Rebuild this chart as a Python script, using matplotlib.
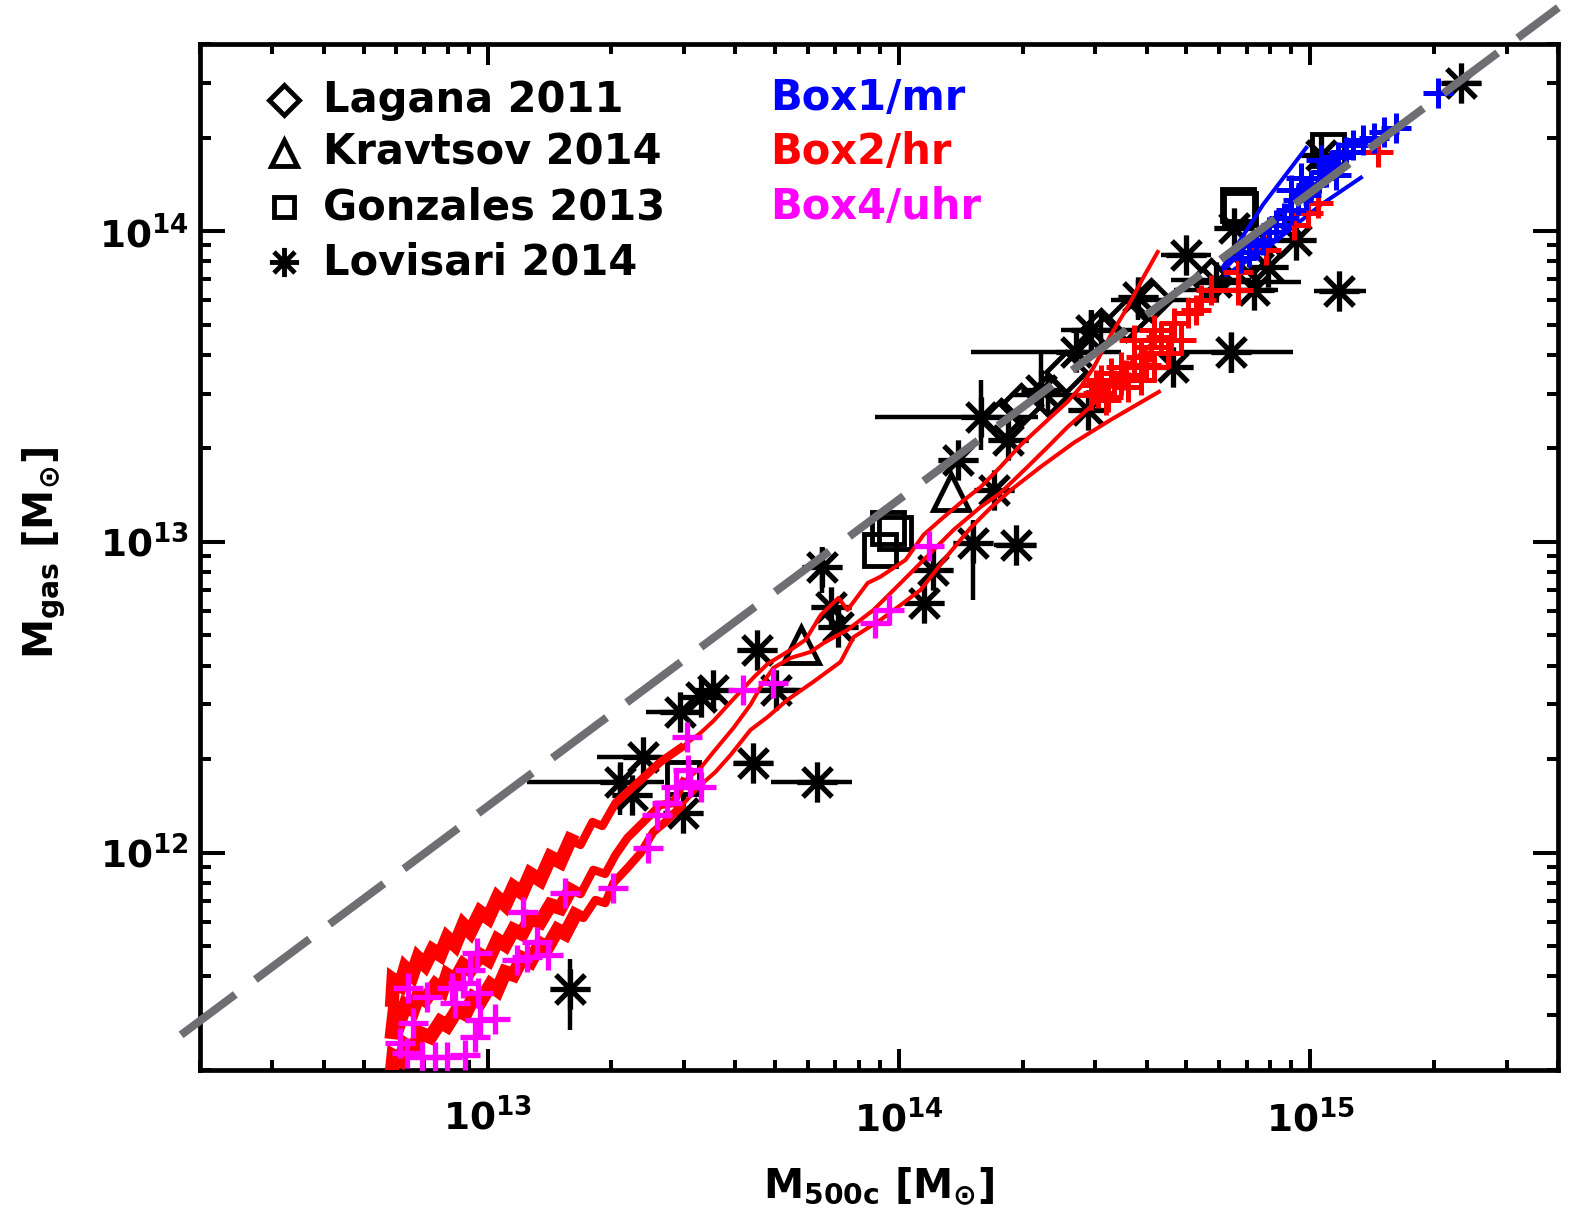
import numpy as np
import matplotlib
matplotlib.use("Agg")
import matplotlib.pyplot as plt
from matplotlib.path import Path
from matplotlib.ticker import LogLocator, NullFormatter

plt.rcParams["font.family"] = ["DejaVu Sans"]
plt.rcParams["font.weight"] = "bold"
plt.rcParams["mathtext.default"] = "bf"

# ---- data (log10 of masses in Msun) ----
# simulations, Box4/uhr
box4_logm = [12.788, 12.805, 12.841, 12.873, 12.902, 12.946, 12.807, 12.853, 12.819, 12.975,
             12.958, 12.914, 12.941, 12.977, 12.921, 12.982, 13.019, 12.970, 13.087, 13.189,
             13.306, 13.121, 13.072, 13.148, 13.097, 13.391, 13.413, 13.437, 13.457, 13.493,
             13.518, 13.488, 13.486, 13.620, 13.695, 14.072, 13.943, 13.975]
box4_logmgas = [11.388, 11.356, 11.343, 11.343, 11.343, 11.349, 11.565, 11.536, 11.452, 11.677,
                11.623, 11.565, 11.581, 11.549, 11.517, 11.462, 11.465, 11.407, 11.809, 11.871,
                11.887, 11.713, 11.655, 11.671, 11.665, 12.015, 12.122, 12.160, 12.212, 12.228,
                12.212, 12.266, 12.372, 12.524, 12.546, 12.987, 12.739, 12.781]

# Box2/hr clusters
box2_logm = [15.165, 15.019, 14.994, 14.960, 14.892, 14.824, 14.824, 14.758, 14.734, 14.702,
             14.668, 14.637, 14.612, 14.588, 14.571, 14.539, 14.515, 14.491, 14.483, 14.508,
             14.556, 14.588, 14.620, 14.654, 14.685, 14.571, 14.620, 14.466, 14.522, 14.552,
             14.600, 14.661, 14.722, 14.479, 14.503, 14.539]
box2_logmgas = [14.255, 14.091, 14.059, 14.020, 13.940, 13.869, 13.811, 13.811, 13.779, 13.737,
                13.705, 13.660, 13.628, 13.595, 13.563, 13.563, 13.544, 13.521, 13.480, 13.467,
                13.499, 13.521, 13.563, 13.608, 13.650, 13.650, 13.682, 13.473, 13.505, 13.537,
                13.570, 13.650, 13.747, 13.505, 13.457, 13.521]

# Box1/mr clusters
box1_logm = [15.311, 15.208, 15.179, 15.155, 15.128, 15.104, 15.087, 15.067, 15.050, 15.038,
             15.021, 15.002, 14.990, 14.970, 14.953, 14.936, 14.916, 14.899, 14.885, 14.868,
             14.851, 14.831, 14.977, 15.026, 14.953, 15.063]
box1_logmgas = [14.445, 14.332, 14.320, 14.300, 14.294, 14.278, 14.255, 14.239, 14.213, 14.191,
                14.172, 14.149, 14.117, 14.101, 14.068, 14.043, 14.020, 13.998, 13.972, 13.956,
                13.933, 13.914, 14.172, 14.229, 14.133, 14.181]

# Box2/hr running lines (upper, median, lower)
hr_up_logm = [12.768, 12.771, 12.788, 12.800, 12.817, 12.831, 12.848, 12.866, 12.885, 12.902,
              12.921, 12.941, 12.958, 12.982, 13.002, 13.024, 13.043, 13.063, 13.084, 13.104,
              13.128, 13.153, 13.177, 13.201, 13.226, 13.255, 13.279, 13.311, 13.354, 13.389,
              13.420, 13.469, 13.518, 13.549, 13.598, 13.646, 13.681, 13.737, 13.773, 13.810,
              13.853, 13.875, 13.924, 13.955, 14.016, 14.060, 14.101, 14.150, 14.199, 14.247,
              14.296, 14.362, 14.410, 14.442, 14.474, 14.515, 14.556, 14.595, 14.629]
hr_up_logmgas = [11.526, 11.591, 11.575, 11.629, 11.607, 11.661, 11.639, 11.687, 11.671, 11.726,
                 11.703, 11.768, 11.745, 11.809, 11.790, 11.855, 11.832, 11.890, 11.871, 11.932,
                 11.912, 11.986, 11.970, 12.041, 12.025, 12.099, 12.086, 12.160, 12.212, 12.254,
                 12.292, 12.337, 12.386, 12.424, 12.495, 12.563, 12.608, 12.653, 12.685, 12.765,
                 12.820, 12.781, 12.868, 12.888, 12.942, 13.023, 13.071, 13.126, 13.177, 13.242,
                 13.312, 13.393, 13.451, 13.499, 13.563, 13.666, 13.756, 13.853, 13.933]
hr_mid_logm = [12.768, 12.773, 12.788, 12.800, 12.819, 12.831, 12.848, 12.873, 12.890, 12.902,
               12.921, 12.941, 12.958, 12.982, 13.002, 13.024, 13.043, 13.063, 13.084, 13.104,
               13.128, 13.153, 13.177, 13.201, 13.226, 13.257, 13.286, 13.311, 13.340, 13.379,
               13.420, 13.452, 13.476, 13.518, 13.549, 13.598, 13.639, 13.671, 13.695, 13.737,
               13.785, 13.817, 13.875, 13.938, 13.980, 14.036, 14.084, 14.133, 14.199, 14.247,
               14.313, 14.362, 14.410, 14.466, 14.539, 14.612]
hr_mid_logmgas = [11.423, 11.481, 11.462, 11.510, 11.494, 11.539, 11.526, 11.575, 11.558, 11.607,
                  11.591, 11.639, 11.623, 11.671, 11.655, 11.719, 11.703, 11.752, 11.739, 11.790,
                  11.777, 11.832, 11.822, 11.880, 11.867, 11.945, 11.932, 11.993, 12.048, 12.099,
                  12.154, 12.160, 12.228, 12.273, 12.324, 12.402, 12.476, 12.550, 12.595, 12.627,
                  12.646, 12.675, 12.717, 12.781, 12.836, 12.910, 12.974, 13.039, 13.113, 13.158,
                  13.242, 13.306, 13.370, 13.435, 13.547, 13.634]
hr_lo_logm = [12.768, 12.771, 12.788, 12.800, 12.819, 12.836, 12.861, 12.885, 12.902, 12.926,
              12.946, 12.965, 12.982, 13.007, 13.024, 13.043, 13.063, 13.084, 13.104, 13.128,
              13.145, 13.170, 13.189, 13.213, 13.233, 13.262, 13.286, 13.306, 13.340, 13.372,
              13.403, 13.432, 13.469, 13.518, 13.554, 13.591, 13.639, 13.681, 13.729, 13.792,
              13.858, 13.890, 13.955, 14.004, 14.053, 14.119, 14.174, 14.223, 14.272, 14.345,
              14.425, 14.515, 14.632]
hr_lo_logmgas = [11.307, 11.346, 11.333, 11.382, 11.365, 11.420, 11.407, 11.456, 11.443, 11.494,
                 11.481, 11.533, 11.520, 11.575, 11.558, 11.616, 11.607, 11.661, 11.649, 11.707,
                 11.694, 11.752, 11.739, 11.800, 11.790, 11.848, 11.838, 11.903, 11.951, 11.999,
                 12.067, 12.099, 12.147, 12.218, 12.260, 12.315, 12.395, 12.437, 12.492, 12.550,
                 12.614, 12.694, 12.749, 12.797, 12.846, 12.958, 13.045, 13.110, 13.167, 13.242,
                 13.319, 13.393, 13.483]

# Box1/mr running lines
mr_lines_logm = [[14.788, 14.885, 14.990],
                 [14.790, 14.880, 14.977, 15.075],
                 [14.795, 14.904, 15.026, 15.123]]
mr_lines_logmgas = [[13.885, 14.085, 14.268],
                    [13.875, 14.004, 14.117, 14.213],
                    [13.859, 13.956, 14.085, 14.172]]

# Lovisari 2014 (errors in dex)
lov_logm = [13.201, 13.802, 13.646, 13.323, 13.379, 13.352, 13.469, 13.518, 13.549, 13.476,
            13.656, 13.700, 13.814, 13.834, 13.851, 14.060, 14.084, 14.179, 14.284, 14.143,
            14.230, 14.199, 14.430, 14.345, 14.264, 14.466, 14.666, 14.807, 14.698, 14.814,
            14.897, 14.863, 15.070, 15.367, 14.771, 14.581, 14.459, 14.965, 15.026]
lov_logmgas = [11.562, 12.228, 12.289, 12.228, 12.308, 12.186, 12.453, 12.501, 12.524, 12.128,
               12.653, 12.524, 12.920, 12.791, 12.727, 12.804, 12.910, 12.997, 12.990, 13.264,
               13.167, 13.402, 13.612, 13.489, 13.328, 13.682, 13.563, 13.612, 13.924, 14.011,
               13.885, 13.811, 13.808, 14.477, 13.837, 13.789, 13.425, 13.972, 14.246]
lov_dm_lo = [0, .112, .048, .226, .112, 0, .085, 0, 0, 0, 0, .036, 0, 0, 0, 0, 0, 0, .054, 0,
             0, .256, .256, 0, 0, 0, 0, .122, .061, 0, 0, .195, .061, .042, .061, 0, 0, 0, .017]
lov_dm_hi = [0, .085, .047, .105, .041, 0, .049, 0, 0, 0, 0, .061, 0, 0, 0, 0, 0, 0, .049, 0,
             0, .138, .109, 0, 0, 0, 0, .151, .060, 0, 0, .058, .065, .048, .206, 0, 0, 0, .041]
lov_dg_lo = [.132, 0, 0, .106, 0, 0, 0, 0, 0, 0, 0, 0, .084, 0, 0, 0, 0, .184, 0, 0,
             0, .106, 0, .032, 0, .080, 0, .068, 0, 0, 0, 0, 0, 0, 0, .074, 0, 0, 0]
lov_dg_hi = [.096, 0, 0, .055, 0, 0, 0, 0, 0, 0, 0, 0, .064, 0, 0, 0, 0, .074, 0, 0,
             0, .119, 0, .119, 0, .065, 0, .061, 0, 0, 0, 0, 0, 0, 0, .054, 0, 0, 0]

# Lagana 2011
lag_logm = [14.362, 14.491, 14.612, 14.247, 14.758, 14.406, 14.552, 14.856, 14.296, 14.929]
lag_logmgas = [13.473, 13.682, 13.779, 13.393, 13.843, 13.547, 13.715, 13.924, 13.441, 13.988]
lag_dm_lo = [0.090, 0.098, 0.097, 0, 0.097, 0, 0, 0, 0, 0]
lag_dm_hi = [0.092, 0.097, 0.098, 0, 0.098, 0, 0, 0, 0, 0]
lag_dg_lo = [0.064, 0.064, 0, 0, 0, 0, 0, 0, 0, 0]
lag_dg_hi = [0.064, 0.065, 0, 0, 0, 0, 0, 0, 0, 0]

# Gonzales 2013
gon_logm = [13.973, 13.990, 13.955, 14.824, 14.830, 15.043, 13.476]
gon_logmgas = [13.045, 13.030, 12.974, 14.085, 14.070, 14.262, 12.241]

# Kravtsov 2014
kra_logm = [14.126, 13.761]
kra_logmgas = [13.161, 12.669]

# reference relation (dashed)
ref_logm = [12.255, 15.603]
ref_logmgas = [11.414, 14.719]

legend_names = ["Lagana 2011", "Kravtsov 2014", "Gonzales 2013", "Lovisari 2014"]
sim_names = ["Box1/mr", "Box2/hr", "Box4/uhr"]
sim_colors = ["#0000ff", "#ff0000", "#ff00ff"]


def lin(a):
    return 10.0 ** np.asarray(a, dtype=float)


def err(logv, dlo, dhi):
    v = lin(logv)
    lo = v - lin(np.subtract(logv, dlo))
    hi = lin(np.add(logv, dhi)) - v
    return [lo, hi]


ast = Path([(-1, 0), (1, 0), (0, -1), (0, 1), (-.72, -.72), (.72, .72), (-.72, .72), (.72, -.72)],
           [Path.MOVETO, Path.LINETO] * 4)

fig = plt.figure(figsize=(15.75, 12.18), dpi=100)
ax = fig.add_axes([0.127, 0.1215, 0.8622, 0.8424])
ax.set_xscale("log")
ax.set_yscale("log")

# observations
ax.errorbar(lin(lov_logm), lin(lov_logmgas),
            xerr=err(lov_logm, lov_dm_lo, lov_dm_hi), yerr=err(lov_logmgas, lov_dg_lo, lov_dg_hi),
            fmt="none", ecolor="k", elinewidth=3.2, capsize=0, zorder=2)
ax.plot(lin(lov_logm), lin(lov_logmgas), ls="none", marker=ast, ms=29,
        mfc="none", mec="k", mew=3.8, zorder=2)
ax.errorbar(lin(lag_logm), lin(lag_logmgas),
            xerr=err(lag_logm, lag_dm_lo, lag_dm_hi), yerr=err(lag_logmgas, lag_dg_lo, lag_dg_hi),
            fmt="none", ecolor="k", elinewidth=3.2, capsize=0, zorder=2)
ax.plot(lin(lag_logm), lin(lag_logmgas), ls="none", marker="D", ms=20,
        mfc="none", mec="k", mew=3.5, zorder=2)
ax.plot(lin(gon_logm), lin(gon_logmgas), ls="none", marker="s", ms=23,
        mfc="none", mec="k", mew=3.5, zorder=2)
ax.plot(lin(kra_logm), lin(kra_logmgas), ls="none", marker="^", ms=26,
        mfc="none", mec="k", mew=3.5, zorder=2)

# simulations: the noisy low-mass end of the Box2 lines reads as a thick band
for lx, ly in [(hr_up_logm, hr_up_logmgas), (hr_mid_logm, hr_mid_logmgas), (hr_lo_logm, hr_lo_logmgas)]:
    lx = np.asarray(lx)
    ly = np.asarray(ly)
    ax.plot(lin(lx), lin(ly), color=sim_colors[1], lw=2.9, zorder=3)
    low = lx <= 13.22
    ax.plot(lin(lx[low]), lin(ly[low]), color=sim_colors[1], lw=10, zorder=3,
            solid_joinstyle="miter")
    mid = lx <= 13.48
    ax.plot(lin(lx[mid]), lin(ly[mid]), color=sim_colors[1], lw=6, zorder=3)
for lx, ly in zip(mr_lines_logm, mr_lines_logmgas):
    ax.plot(lin(lx), lin(ly), color=sim_colors[0], lw=2.9, zorder=3)
ax.plot(lin(box2_logm), lin(box2_logmgas), ls="none", marker="+", ms=21,
        mew=3.6, color=sim_colors[1], zorder=4)
ax.plot(lin(box1_logm), lin(box1_logmgas), ls="none", marker="+", ms=21,
        mew=3.6, color=sim_colors[0], zorder=4)
ax.plot(lin(box4_logm), lin(box4_logmgas), ls="none", marker="+", ms=21,
        mew=3.8, color=sim_colors[2], zorder=5)

# dashed relation
ax.plot(lin(ref_logm), lin(ref_logmgas), color="#6e6e73", lw=5.8, dashes=(8.4, 3.1),
        dash_capstyle="butt", clip_on=False, zorder=6)

ax.set_xlim(2e12, 4e15)
ax.set_ylim(2e11, 4e14)

ax.xaxis.set_major_locator(LogLocator(base=10))
ax.yaxis.set_major_locator(LogLocator(base=10))
ax.xaxis.set_minor_locator(LogLocator(base=10, subs=np.arange(2, 10)))
ax.yaxis.set_minor_locator(LogLocator(base=10, subs=np.arange(2, 10)))
ax.xaxis.set_minor_formatter(NullFormatter())
ax.yaxis.set_minor_formatter(NullFormatter())

ax.tick_params(which="both", direction="in", top=True, right=True, width=2.9, colors="k")
ax.tick_params(axis="x", which="major", length=15, pad=21, labelsize=27)
ax.tick_params(axis="x", which="minor", length=7.5)
ax.tick_params(axis="y", which="major", length=18, pad=8, labelsize=27)
ax.tick_params(axis="y", which="minor", length=8)
for sp in ax.spines.values():
    sp.set_linewidth(3.4)

ax.set_xlabel(r"$M_{500c}\ [M_{\odot}]$", fontsize=29)
ax.xaxis.set_label_coords(0.5, -0.093)
ax.set_ylabel(r"$M_{gas}\ [M_{\odot}]$", fontsize=29)
ax.yaxis.set_label_coords(-0.097, 0.504)

# legend
rows_y = [0.9454, 0.8938, 0.8411, 0.7875]
leg_markers = [("D", 15), ("^", 19), ("s", 15), (ast, 21)]
for name, (mk, ms), yy in zip(legend_names, leg_markers, rows_y):
    ax.plot([0.0619], [yy], transform=ax.transAxes, ls="none", marker=mk, ms=ms,
            mfc="none", mec="k", mew=3.5, zorder=7)
    ax.text(0.0906, yy, name, transform=ax.transAxes, fontsize=30, fontweight="bold",
            va="center", ha="left", zorder=7)
for name, col, yy in zip(sim_names, sim_colors, [0.9474, 0.8947, 0.8411]):
    ax.text(0.4197, yy, name, transform=ax.transAxes, fontsize=30, fontweight="bold",
            color=col, va="center", ha="left", zorder=7)

fig.savefig("out.png", dpi=100)
